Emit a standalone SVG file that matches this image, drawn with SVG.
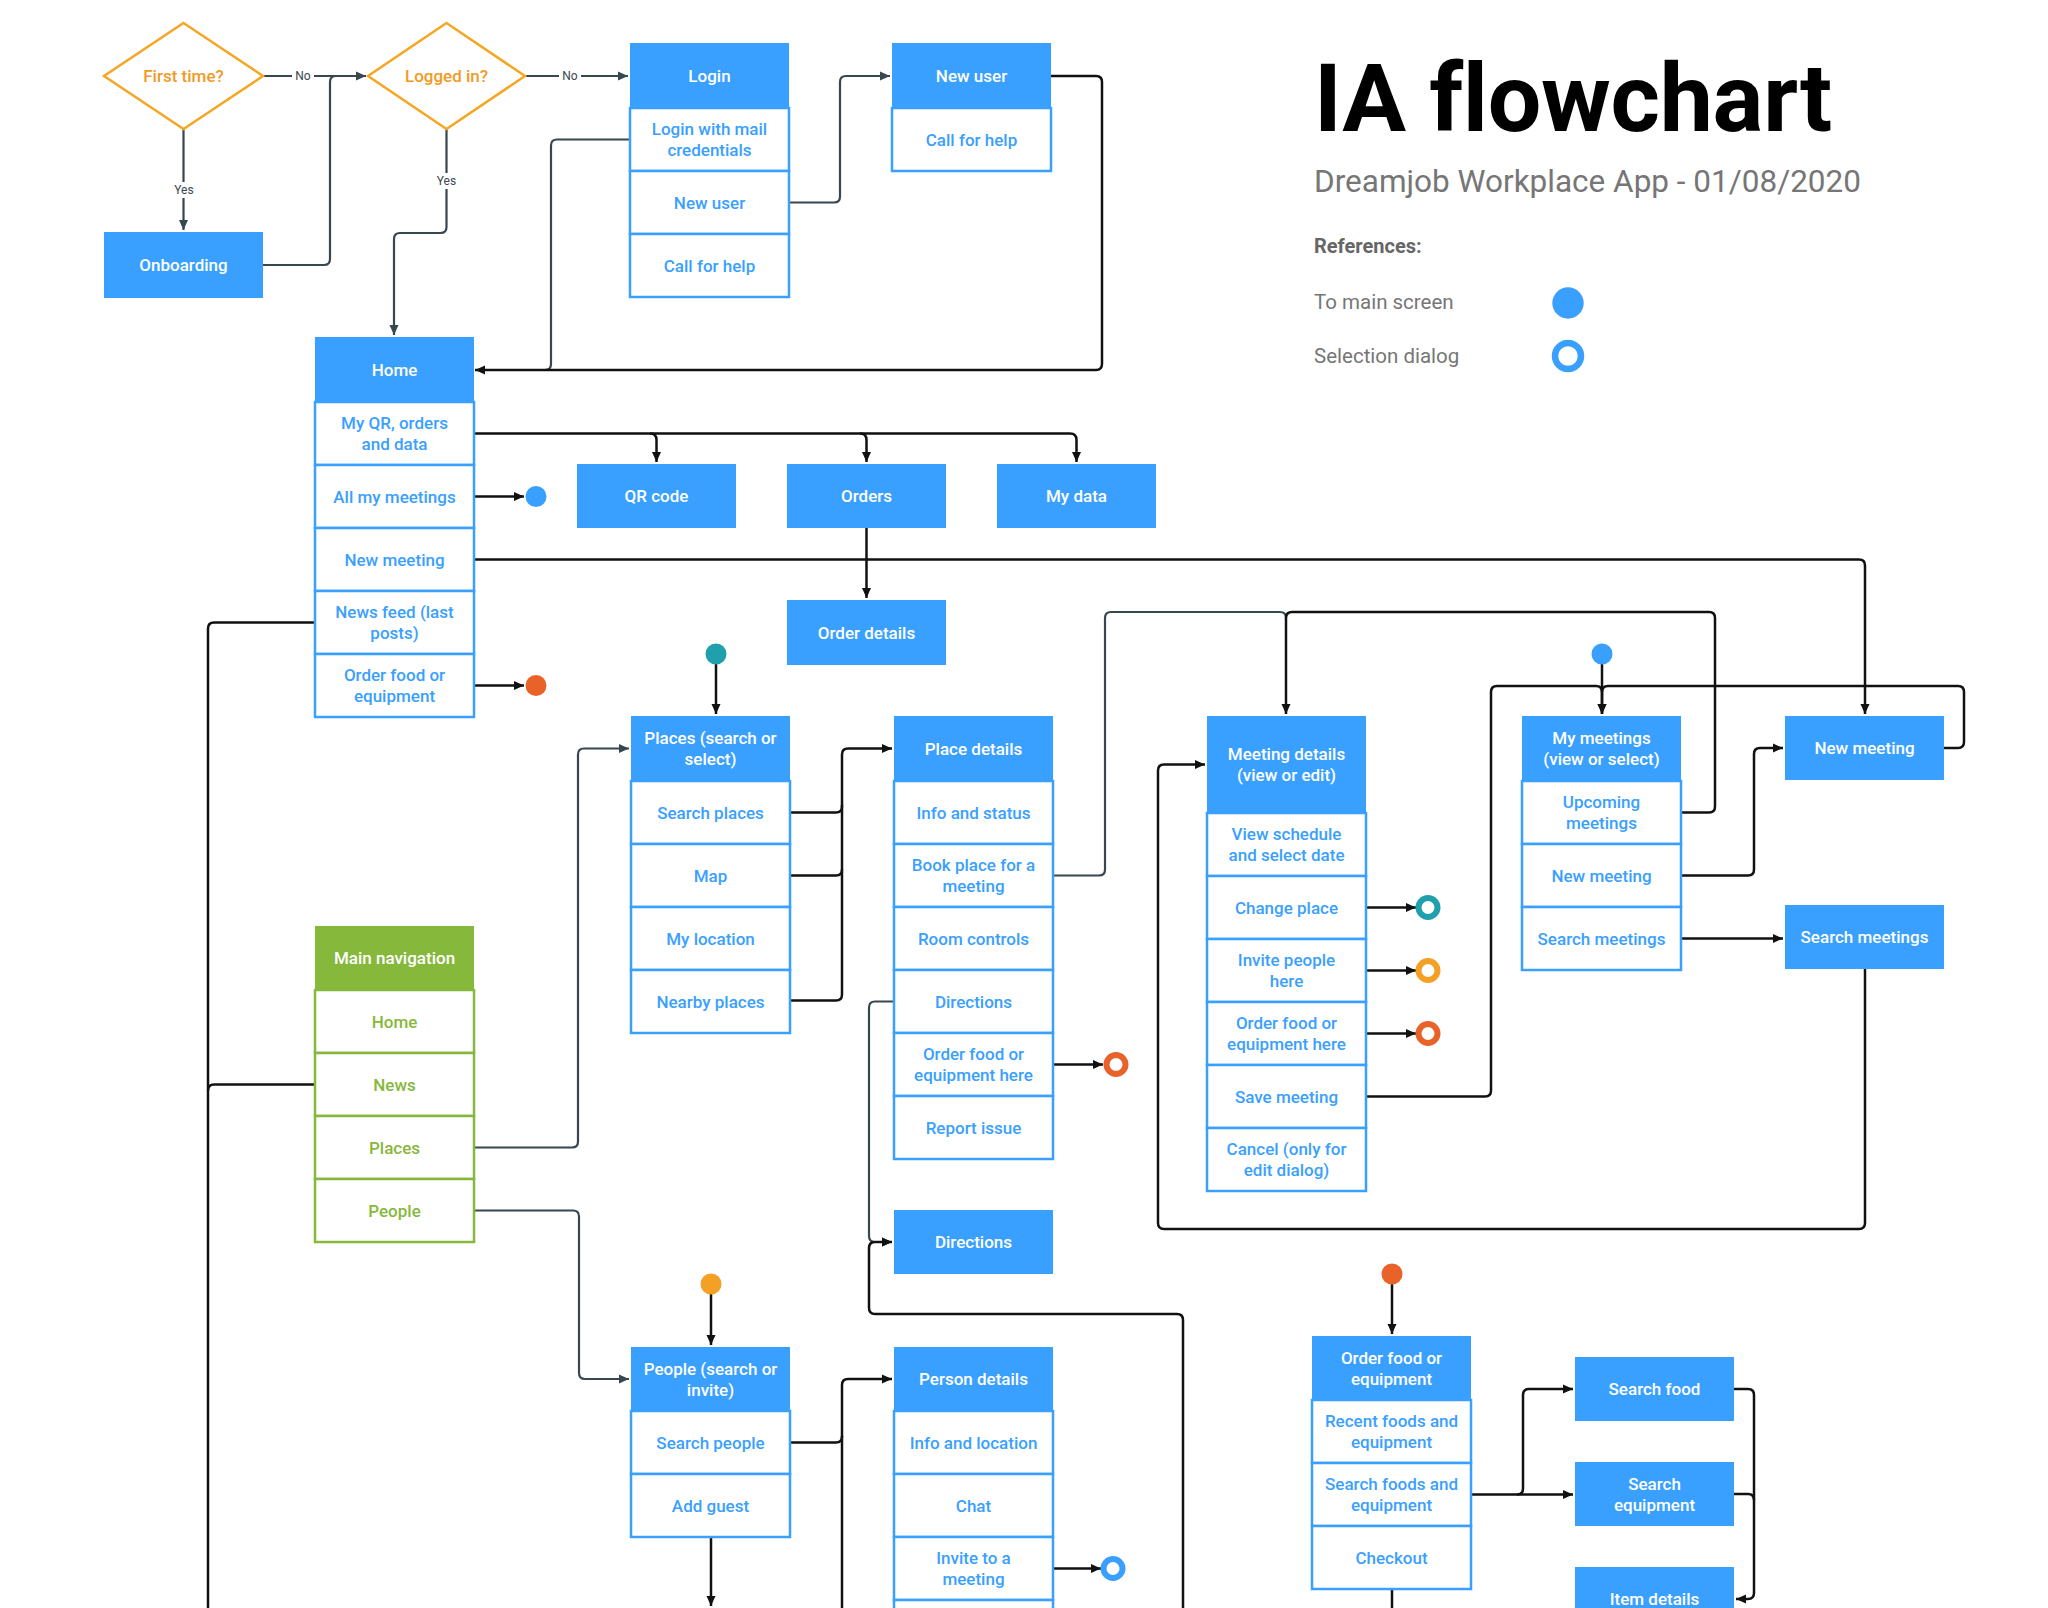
<svg xmlns="http://www.w3.org/2000/svg" width="2048" height="1608" viewBox="0 0 2048 1608">
<defs>
<style>
text{font-family:Roboto,"Liberation Sans",sans-serif;font-weight:500;font-size:17px;text-anchor:middle}
.hd{fill:#3aa0ff}
.hg{fill:#86b83c}
.row{fill:#fff;stroke:#3aa0ff;stroke-width:2.5}
.rowg{fill:#fff;stroke:#86b83c;stroke-width:2.5}
.ht{fill:#fff}
.rt{fill:#3aa0ff}
.gt{fill:#86b83c}
.dia{fill:#fff;stroke:#f5a623;stroke-width:2.5}
.dt{fill:#f29a1f}
.k{fill:none;stroke:#111;stroke-width:2.5}
.s{fill:none;stroke:#37474f;stroke-width:2.2}
.lbl{font-size:12px;font-weight:400;fill:#37474f}
.ring{fill:none;stroke-width:6}
.lg{font-weight:400;text-anchor:start;fill:#767676}
</style>
<marker id="ak" markerUnits="userSpaceOnUse" markerWidth="11" markerHeight="10" refX="10" refY="5" orient="auto"><path d="M0,0.5 L10,5 L0,9.5 z" fill="#111"/></marker>
<marker id="as" markerUnits="userSpaceOnUse" markerWidth="11" markerHeight="10" refX="10" refY="5" orient="auto"><path d="M0,0.5 L10,5 L0,9.5 z" fill="#37474f"/></marker>
</defs>
<rect width="2048" height="1608" fill="#fff"/>

<g id="title">
<text x="1314" y="131" style="font-size:95px;font-weight:700;text-anchor:start;fill:#000;letter-spacing:-0.3px">IA flowchart</text>
<text x="1314" y="192" class="lg" style="font-size:31.5px">Dreamjob Workplace App - 01/08/2020</text>
<text x="1314" y="253" class="lg" style="font-size:20px;font-weight:700;fill:#666">References:</text>
<text x="1314" y="309" class="lg" style="font-size:20.5px">To main screen</text>
<text x="1314" y="363" class="lg" style="font-size:20.5px">Selection dialog</text>
<circle cx="1568" cy="303" r="15.7" fill="#3aa0ff"/>
<circle cx="1568" cy="356" r="13" class="ring" stroke="#3aa0ff" style="stroke-width:6.5"/>
</g>

<g id="connectors">
<path class="s" d="M263.5,76 L366,76" marker-end="url(#as)"/>
<path class="s" d="M263,265 L324,265 Q330,265 330,259 L330,82 Q330,76 336,76"/>
<path class="s" d="M183.5,129 L183.5,230" marker-end="url(#as)"/>
<path class="s" d="M525,76 L628,76" marker-end="url(#as)"/>
<path class="s" d="M446.5,129 L446.5,227 Q446.5,233 440.5,233 L400,233 Q394,233 394,239 L394,335" marker-end="url(#as)"/>
<path class="s" d="M630,139.5 L557,139.5 Q551,139.5 551,145.5 L551,364 Q551,370 545,370"/>
<path class="s" d="M789,202.5 L834,202.5 Q840,202.5 840,196.5 L840,82 Q840,76 846,76 L890,76" marker-end="url(#as)"/>
<path class="k" d="M1051,76 L1096,76 Q1102,76 1102,82 L1102,364 Q1102,370 1096,370 L475,370" marker-end="url(#ak)"/>
<path class="k" d="M473,433.5 L1070,433.5 Q1076.5,433.5 1076.5,440 L1076.5,462" marker-end="url(#ak)"/>
<path class="k" d="M650,433.5 Q656.5,433.5 656.5,440 L656.5,462" marker-end="url(#ak)"/>
<path class="k" d="M860,433.5 Q866.5,433.5 866.5,440 L866.5,462" marker-end="url(#ak)"/>
<path class="k" d="M473,496.5 L524,496.5" marker-end="url(#ak)"/>
<path class="k" d="M473,685.5 L524,685.5" marker-end="url(#ak)"/>
<path class="k" d="M473,559.5 L1859,559.5 Q1865,559.5 1865,565.5 L1865,714" marker-end="url(#ak)"/>
<path class="k" d="M866.5,528 L866.5,598" marker-end="url(#ak)"/>
<path class="k" d="M315,622.5 L214,622.5 Q208,622.5 208,628.5 L208,1608"/>
<path class="k" d="M315,1084.5 L214,1084.5 Q208,1084.5 208,1090.5"/>
<path class="k" d="M716,664 L716,714" marker-end="url(#ak)"/>
<path class="s" d="M473,1147.5 L572,1147.5 Q578,1147.5 578,1141.5 L578,754.5 Q578,748.5 584,748.5 L629,748.5" marker-end="url(#as)"/>
<path class="s" d="M473,1210.5 L573,1210.5 Q579,1210.5 579,1216.5 L579,1373 Q579,1379 585,1379 L629,1379" marker-end="url(#as)"/>
<path class="k" d="M790,812.5 L836,812.5 Q842,812.5 842,806.5 L842,754.5 Q842,748.5 848,748.5 L892,748.5" marker-end="url(#ak)"/>
<path class="k" d="M790,875.5 L836,875.5 Q842,875.5 842,869.5"/>
<path class="k" d="M790,1000.5 L836,1000.5 Q842,1000.5 842,994.5 L842,805"/>
<path class="s" d="M894,1001.5 L875,1001.5 Q869,1001.5 869,1007.5 L869,1236 Q869,1242 875,1242 L892,1242" marker-end="url(#as)"/>
<path class="k" d="M1183,1608 L1183,1320 Q1183,1314 1177,1314 L875,1314 Q869,1314 869,1308 L869,1248 Q869,1242 875,1242 L892,1242" marker-end="url(#ak)"/>
<path class="k" d="M1053,1064.5 L1103,1064.5" marker-end="url(#ak)"/>
<path class="s" d="M1053,875.5 L1099,875.5 Q1105,875.5 1105,869.5 L1105,618 Q1105,612 1111,612 L1280,612 Q1286,612 1286,618"/>
<path class="k" d="M1681,812.5 L1709,812.5 Q1715,812.5 1715,806.5 L1715,618 Q1715,612 1709,612 L1292,612 Q1286,612 1286,618 L1286,714" marker-end="url(#ak)"/>
<path class="k" d="M1366,907.5 L1416,907.5" marker-end="url(#ak)"/>
<path class="k" d="M1366,970.5 L1416,970.5" marker-end="url(#ak)"/>
<path class="k" d="M1366,1033.5 L1416,1033.5" marker-end="url(#ak)"/>
<path class="k" d="M1366,1096.5 L1485,1096.5 Q1491,1096.5 1491,1090.5 L1491,692 Q1491,686 1497,686 L1596,686 Q1602,686 1602,692 L1602,714" marker-end="url(#ak)"/>
<path class="k" d="M1602,664 L1602,714" marker-end="url(#ak)"/>
<path class="k" d="M1944,748 L1958,748 Q1964,748 1964,742 L1964,692 Q1964,686 1958,686 L1608,686 Q1602,686 1602,692"/>
<path class="k" d="M1681,875.5 L1748,875.5 Q1754,875.5 1754,869.5 L1754,754 Q1754,748 1760,748 L1783,748" marker-end="url(#ak)"/>
<path class="k" d="M1681,938.5 L1783,938.5" marker-end="url(#ak)"/>
<path class="k" d="M1865,969 L1865,1223 Q1865,1229 1859,1229 L1164,1229 Q1158,1229 1158,1223 L1158,770.5 Q1158,764.5 1164,764.5 L1205,764.5" marker-end="url(#ak)"/>
<path class="k" d="M711,1294 L711,1345" marker-end="url(#ak)"/>
<path class="k" d="M790,1442.5 L836,1442.5 Q842,1442.5 842,1436.5 L842,1385 Q842,1379 848,1379 L892,1379" marker-end="url(#ak)"/>
<path class="k" d="M842,1608 L842,1436"/>
<path class="k" d="M711,1537 L711,1606" marker-end="url(#ak)"/>
<path class="k" d="M1053,1568.5 L1101,1568.5" marker-end="url(#ak)"/>
<path class="k" d="M1392,1284 L1392,1334" marker-end="url(#ak)"/>
<path class="k" d="M1471,1494.5 L1573,1494.5" marker-end="url(#ak)"/>
<path class="k" d="M1517,1494.5 Q1523,1494.5 1523,1488.5 L1523,1395 Q1523,1389 1529,1389 L1573,1389" marker-end="url(#ak)"/>
<path class="k" d="M1734,1389 L1748,1389 Q1754,1389 1754,1395 L1754,1593 Q1754,1599 1748,1599 L1736,1599" marker-end="url(#ak)"/>
<path class="k" d="M1734,1494 L1748,1494 Q1754,1494 1754,1500"/>
<path class="k" d="M1392,1589 L1392,1608"/>
<rect x="292" y="68" width="22" height="16" fill="#fff"/>
<text x="303" y="80" class="lbl">No</text>
<rect x="559" y="68" width="22" height="16" fill="#fff"/>
<text x="570" y="80" class="lbl">No</text>
<rect x="170" y="182" width="28" height="16" fill="#fff"/>
<text x="184" y="194" class="lbl">Yes</text>
<rect x="432" y="173" width="28" height="16" fill="#fff"/>
<text x="446.5" y="185" class="lbl">Yes</text>
</g>

<g id="dots">
<circle cx="536" cy="496.5" r="10.5" fill="#3aa0ff"/>
<circle cx="536" cy="685.5" r="10.5" fill="#e9622a"/>
<circle cx="716" cy="654" r="10.5" fill="#1fa0ac"/>
<circle cx="1602" cy="654" r="10.5" fill="#3aa0ff"/>
<circle cx="711" cy="1284" r="10.5" fill="#f4a024"/>
<circle cx="1392" cy="1274" r="10.5" fill="#e9622a"/>
<circle cx="1116" cy="1064.5" r="9.5" class="ring" stroke="#e9622a"/>
<circle cx="1428" cy="907.5" r="9.5" class="ring" stroke="#1fa0ac"/>
<circle cx="1428" cy="970.5" r="9.5" class="ring" stroke="#f4a024"/>
<circle cx="1428" cy="1033.5" r="9.5" class="ring" stroke="#e9622a"/>
<circle cx="1113" cy="1568.5" r="9.5" class="ring" stroke="#3aa0ff"/>
</g>

<g id="first-time"><polygon class="dia" points="183.5,23 263,76 183.5,129 104,76"/><text x="183.5" y="82" class="dt">First time?</text></g>
<g id="logged-in"><polygon class="dia" points="446.5,23 525,76 446.5,129 368,76"/><text x="446.5" y="82" class="dt">Logged in?</text></g>
<g id="onboarding"><rect class="hd" x="104" y="232" width="159" height="66"/><text x="183.5" y="271" class="ht">Onboarding</text></g>

<g id="login">
<rect class="hd" x="630" y="43" width="159" height="65"/><text x="709.5" y="81.5" class="ht">Login</text>
<rect class="row" x="630" y="108" width="159" height="63"/><text x="709.5" y="135" class="rt">Login with mail<tspan x="709.5" dy="21">credentials</tspan></text>
<rect class="row" x="630" y="171" width="159" height="63"/><text x="709.5" y="208.5" class="rt">New user</text>
<rect class="row" x="630" y="234" width="159" height="63"/><text x="709.5" y="271.5" class="rt">Call for help</text>
</g>
<g id="new-user">
<rect class="hd" x="892" y="43" width="159" height="65"/><text x="971.5" y="81.5" class="ht">New user</text>
<rect class="row" x="892" y="108" width="159" height="63"/><text x="971.5" y="145.5" class="rt">Call for help</text>
</g>

<g id="home">
<rect class="hd" x="315" y="337" width="159" height="65"/><text x="394.5" y="375.5" class="ht">Home</text>
<rect class="row" x="315" y="402" width="159" height="63"/><text x="394.5" y="429" class="rt">My QR, orders<tspan x="394.5" dy="21">and data</tspan></text>
<rect class="row" x="315" y="465" width="159" height="63"/><text x="394.5" y="502.5" class="rt">All my meetings</text>
<rect class="row" x="315" y="528" width="159" height="63"/><text x="394.5" y="565.5" class="rt">New meeting</text>
<rect class="row" x="315" y="591" width="159" height="63"/><text x="394.5" y="618" class="rt">News feed (last<tspan x="394.5" dy="21">posts)</tspan></text>
<rect class="row" x="315" y="654" width="159" height="63"/><text x="394.5" y="681" class="rt">Order food or<tspan x="394.5" dy="21">equipment</tspan></text>
</g>

<g id="qr-code"><rect class="hd" x="577" y="464" width="159" height="64"/><text x="656.5" y="502" class="ht">QR code</text></g>
<g id="orders"><rect class="hd" x="787" y="464" width="159" height="64"/><text x="866.5" y="502" class="ht">Orders</text></g>
<g id="my-data"><rect class="hd" x="997" y="464" width="159" height="64"/><text x="1076.5" y="502" class="ht">My data</text></g>
<g id="order-details"><rect class="hd" x="787" y="600" width="159" height="65"/><text x="866.5" y="638.5" class="ht">Order details</text></g>

<g id="places">
<rect class="hd" x="631" y="716" width="159" height="65"/><text x="710.5" y="744" class="ht">Places (search or<tspan x="710.5" dy="21">select)</tspan></text>
<rect class="row" x="631" y="781" width="159" height="63"/><text x="710.5" y="818.5" class="rt">Search places</text>
<rect class="row" x="631" y="844" width="159" height="63"/><text x="710.5" y="881.5" class="rt">Map</text>
<rect class="row" x="631" y="907" width="159" height="63"/><text x="710.5" y="944.5" class="rt">My location</text>
<rect class="row" x="631" y="970" width="159" height="63"/><text x="710.5" y="1007.5" class="rt">Nearby places</text>
</g>

<g id="place-details">
<rect class="hd" x="894" y="716" width="159" height="65"/><text x="973.5" y="754.5" class="ht">Place details</text>
<rect class="row" x="894" y="781" width="159" height="63"/><text x="973.5" y="818.5" class="rt">Info and status</text>
<rect class="row" x="894" y="844" width="159" height="63"/><text x="973.5" y="871" class="rt">Book place for a<tspan x="973.5" dy="21">meeting</tspan></text>
<rect class="row" x="894" y="907" width="159" height="63"/><text x="973.5" y="944.5" class="rt">Room controls</text>
<rect class="row" x="894" y="970" width="159" height="63"/><text x="973.5" y="1007.5" class="rt">Directions</text>
<rect class="row" x="894" y="1033" width="159" height="63"/><text x="973.5" y="1060" class="rt">Order food or<tspan x="973.5" dy="21">equipment here</tspan></text>
<rect class="row" x="894" y="1096" width="159" height="63"/><text x="973.5" y="1133.5" class="rt">Report issue</text>
</g>

<g id="directions"><rect class="hd" x="894" y="1210" width="159" height="64"/><text x="973.5" y="1248" class="ht">Directions</text></g>

<g id="meeting-details">
<rect class="hd" x="1207" y="716" width="159" height="97"/><text x="1286.5" y="760" class="ht">Meeting details<tspan x="1286.5" dy="21">(view or edit)</tspan></text>
<rect class="row" x="1207" y="813" width="159" height="63"/><text x="1286.5" y="840" class="rt">View schedule<tspan x="1286.5" dy="21">and select date</tspan></text>
<rect class="row" x="1207" y="876" width="159" height="63"/><text x="1286.5" y="913.5" class="rt">Change place</text>
<rect class="row" x="1207" y="939" width="159" height="63"/><text x="1286.5" y="966" class="rt">Invite people<tspan x="1286.5" dy="21">here</tspan></text>
<rect class="row" x="1207" y="1002" width="159" height="63"/><text x="1286.5" y="1029" class="rt">Order food or<tspan x="1286.5" dy="21">equipment here</tspan></text>
<rect class="row" x="1207" y="1065" width="159" height="63"/><text x="1286.5" y="1102.5" class="rt">Save meeting</text>
<rect class="row" x="1207" y="1128" width="159" height="63"/><text x="1286.5" y="1155" class="rt">Cancel (only for<tspan x="1286.5" dy="21">edit dialog)</tspan></text>
</g>

<g id="my-meetings">
<rect class="hd" x="1522" y="716" width="159" height="65"/><text x="1601.5" y="744" class="ht">My meetings<tspan x="1601.5" dy="21">(view or select)</tspan></text>
<rect class="row" x="1522" y="781" width="159" height="63"/><text x="1601.5" y="808" class="rt">Upcoming<tspan x="1601.5" dy="21">meetings</tspan></text>
<rect class="row" x="1522" y="844" width="159" height="63"/><text x="1601.5" y="881.5" class="rt">New meeting</text>
<rect class="row" x="1522" y="907" width="159" height="63"/><text x="1601.5" y="944.5" class="rt">Search meetings</text>
</g>

<g id="new-meeting"><rect class="hd" x="1785" y="716" width="159" height="64"/><text x="1864.5" y="754" class="ht">New meeting</text></g>
<g id="search-meetings"><rect class="hd" x="1785" y="905" width="159" height="64"/><text x="1864.5" y="943" class="ht">Search meetings</text></g>

<g id="main-navigation">
<rect class="hg" x="315" y="926" width="159" height="64"/><text x="394.5" y="964" class="ht">Main navigation</text>
<rect class="rowg" x="315" y="990" width="159" height="63"/><text x="394.5" y="1027.5" class="gt">Home</text>
<rect class="rowg" x="315" y="1053" width="159" height="63"/><text x="394.5" y="1090.5" class="gt">News</text>
<rect class="rowg" x="315" y="1116" width="159" height="63"/><text x="394.5" y="1153.5" class="gt">Places</text>
<rect class="rowg" x="315" y="1179" width="159" height="63"/><text x="394.5" y="1216.5" class="gt">People</text>
</g>

<g id="people">
<rect class="hd" x="631" y="1347" width="159" height="64"/><text x="710.5" y="1374.5" class="ht">People (search or<tspan x="710.5" dy="21">invite)</tspan></text>
<rect class="row" x="631" y="1411" width="159" height="63"/><text x="710.5" y="1448.5" class="rt">Search people</text>
<rect class="row" x="631" y="1474" width="159" height="63"/><text x="710.5" y="1511.5" class="rt">Add guest</text>
</g>

<g id="person-details">
<rect class="hd" x="894" y="1347" width="159" height="64"/><text x="973.5" y="1385" class="ht">Person details</text>
<rect class="row" x="894" y="1411" width="159" height="63"/><text x="973.5" y="1448.5" class="rt">Info and location</text>
<rect class="row" x="894" y="1474" width="159" height="63"/><text x="973.5" y="1511.5" class="rt">Chat</text>
<rect class="row" x="894" y="1537" width="159" height="63"/><text x="973.5" y="1564" class="rt">Invite to a<tspan x="973.5" dy="21">meeting</tspan></text>
<rect class="row" x="894" y="1600" width="159" height="63"/>
</g>

<g id="order-food">
<rect class="hd" x="1312" y="1336" width="159" height="64"/><text x="1391.5" y="1363.5" class="ht">Order food or<tspan x="1391.5" dy="21">equipment</tspan></text>
<rect class="row" x="1312" y="1400" width="159" height="63"/><text x="1391.5" y="1427" class="rt">Recent foods and<tspan x="1391.5" dy="21">equipment</tspan></text>
<rect class="row" x="1312" y="1463" width="159" height="63"/><text x="1391.5" y="1490" class="rt">Search foods and<tspan x="1391.5" dy="21">equipment</tspan></text>
<rect class="row" x="1312" y="1526" width="159" height="63"/><text x="1391.5" y="1563.5" class="rt">Checkout</text>
</g>

<g id="search-food"><rect class="hd" x="1575" y="1357" width="159" height="64"/><text x="1654.5" y="1395" class="ht">Search food</text></g>
<g id="search-equipment"><rect class="hd" x="1575" y="1462" width="159" height="64"/><text x="1654.5" y="1489.5" class="ht">Search<tspan x="1654.5" dy="21">equipment</tspan></text></g>
<g id="item-details"><rect class="hd" x="1575" y="1567" width="159" height="64"/><text x="1654.5" y="1605" class="ht">Item details</text></g>
</svg>
